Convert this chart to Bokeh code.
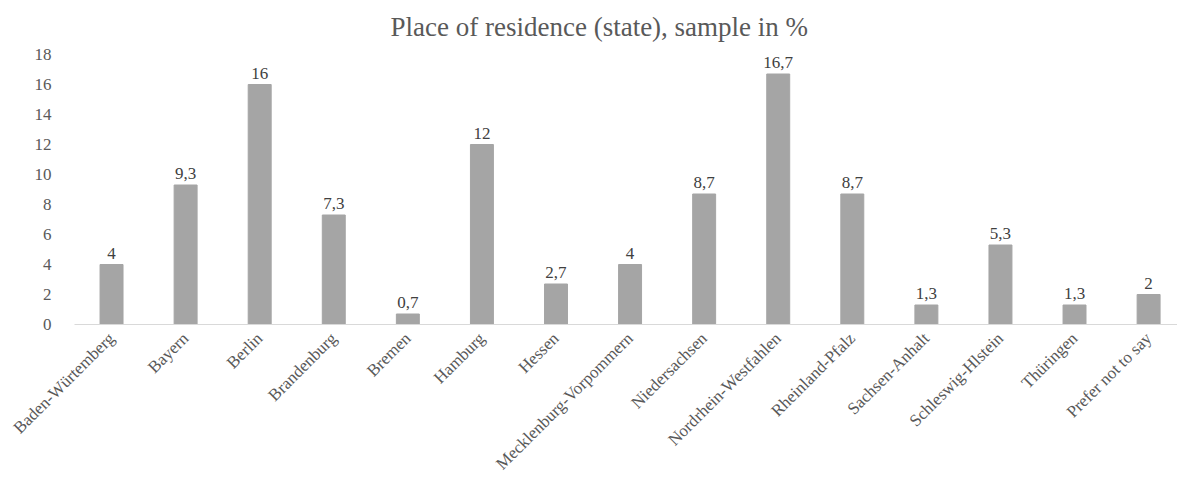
import math
from bokeh.plotting import figure
from bokeh.models import ColumnDataSource, FixedTicker, Range1d, Title
from bokeh.embed import file_html
from bokeh.resources import INLINE

states = ["Baden-Würtemberg", "Bayern", "Berlin", "Brandenburg", "Bremen", "Hamburg",
          "Hessen", "Mecklenburg-Vorpommern", "Niedersachsen", "Nordrhein-Westfahlen",
          "Rheinland-Pfalz", "Sachsen-Anhalt", "Schleswig-Hlstein", "Thüringen",
          "Prefer not to say"]
values = [4, 9.3, 16, 7.3, 0.7, 12, 2.7, 4, 8.7, 16.7, 8.7, 1.3, 5.3, 1.3, 2]
value_labels = ["4", "9,3", "16", "7,3", "0,7", "12", "2,7", "4", "8,7", "16,7",
                "8,7", "1,3", "5,3", "1,3", "2"]
y_ticks = [0, 2, 4, 6, 8, 10, 12, 14, 16, 18]
title_text = "Place of residence (state), sample in %"

FONT = "Liberation Serif"
xs = list(range(len(states)))
src = ColumnDataSource(dict(x=xs, v=values, lab=value_labels))

p = figure(width=1177, height=483, output_backend="svg", toolbar_location=None,
           x_range=Range1d(-0.5, 14.39), y_range=Range1d(0, 18),
           min_border_left=74, min_border_right=0, min_border_bottom=159,
           min_border_top=0, outline_line_color=None)

p.title = Title(text=title_text, align="left", offset=316, standoff=22,
                vertical_align="top", text_font=FONT, text_font_size="27px",
                text_font_style="normal", text_color="#595959")

p.vbar(x="x", top="v", width=0.31, source=src, color="#a5a5a5")
p.text(x="x", y="v", text="lab", source=src, text_align="center",
       text_baseline="bottom", y_offset=-6, text_font={"value": FONT},
       text_font_size="17px", text_color="#404040")

p.xgrid.visible = False
p.ygrid.visible = False

p.xaxis.ticker = FixedTicker(ticks=xs)
p.xaxis.major_label_overrides = {i: s for i, s in enumerate(states)}
p.xaxis.major_label_orientation = math.pi / 4
p.xaxis.major_label_text_font = FONT
p.xaxis.major_label_text_font_size = "17px"
p.xaxis.major_label_text_color = "#595959"
p.xaxis.axis_line_color = "#d9d9d9"
p.xaxis.axis_line_width = 1
p.xaxis.major_tick_line_color = None
p.xaxis.minor_tick_line_color = None
p.xaxis.major_label_standoff = 5

p.yaxis.ticker = FixedTicker(ticks=y_ticks)
p.yaxis.axis_line_color = None
p.yaxis.major_tick_line_color = None
p.yaxis.minor_tick_line_color = None
p.yaxis.major_label_text_font = FONT
p.yaxis.major_label_text_font_size = "17px"
p.yaxis.major_label_text_color = "#595959"
p.yaxis.major_label_standoff = 17

open("out.html", "w").write(file_html(p, INLINE))
